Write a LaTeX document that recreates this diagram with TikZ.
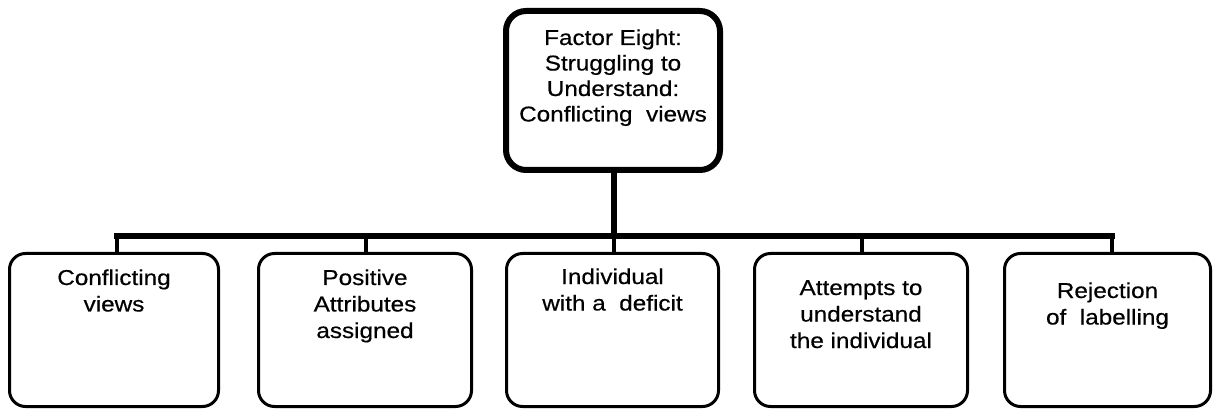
\documentclass[tikz,border=0pt]{standalone}
\usepackage{fontspec}
\setmainfont{Liberation Sans}[FakeStretch=1.13,FakeBold=0.5]
\newcommand\mybox[5]{\parbox[c][#1][t]{#2}{\centering\fontsize{21.5}{#4}\selectfont\rule{0pt}{#3}#5\par}}
\begin{document}
\begin{tikzpicture}[x=1pt,y=-1pt,
  topbox/.style={draw, line width=6pt, rounded corners=20pt, inner sep=0pt, outer sep=0pt, minimum width=214pt, minimum height=159pt},
  subbox/.style={draw, line width=3pt, rounded corners=16pt, inner sep=0pt, outer sep=0pt, minimum height=153pt},
  stem/.style={line width=6pt},
  bar/.style={line width=6.5pt, line cap=rect},
  drop/.style={line width=4.5pt}]
\useasboundingbox (0,0) rectangle (1214,411);
\node[topbox] (top) at (613,90.5) {\mybox{159pt}{208pt}{34pt}{25.5pt}{Factor Eight:\\Struggling to\\Understand:\\Conflicting\ \ views}};
\node[subbox, minimum width=209pt] (b1) at (114,330) {\mybox{153pt}{200pt}{31.5pt}{26.5pt}{Conflicting\\views}};
\node[subbox, minimum width=213pt] (b2) at (365,330) {\mybox{153pt}{200pt}{31.5pt}{26.5pt}{Positive\\Attributes\\assigned}};
\node[subbox, minimum width=212pt] (b3) at (612.5,330) {\mybox{153pt}{200pt}{30.5pt}{26.5pt}{Individual\\with a\ \ deficit}};
\node[subbox, minimum width=213pt] (b4) at (861,330) {\mybox{153pt}{200pt}{41.5pt}{26.5pt}{Attempts to\\understand\\the individual}};
\node[subbox, minimum width=206pt] (b5) at (1107.5,330) {\mybox{153pt}{195pt}{44.5pt}{26.5pt}{Rejection\\of\ \ labelling}};
\coordinate (bj) at (614,236);
\coordinate (j1) at (117,236);
\coordinate (j2) at (366,236);
\coordinate (j3) at (614,236);
\coordinate (j4) at (862,236);
\coordinate (j5) at (1112,236);
\draw[stem] (top.south -| bj) -- (bj);
\draw[bar] (j1) -- (j5);
\foreach \i in {1,...,5} \draw[drop] (j\i) -- (j\i |- b\i.north);
\end{tikzpicture}
\end{document}
